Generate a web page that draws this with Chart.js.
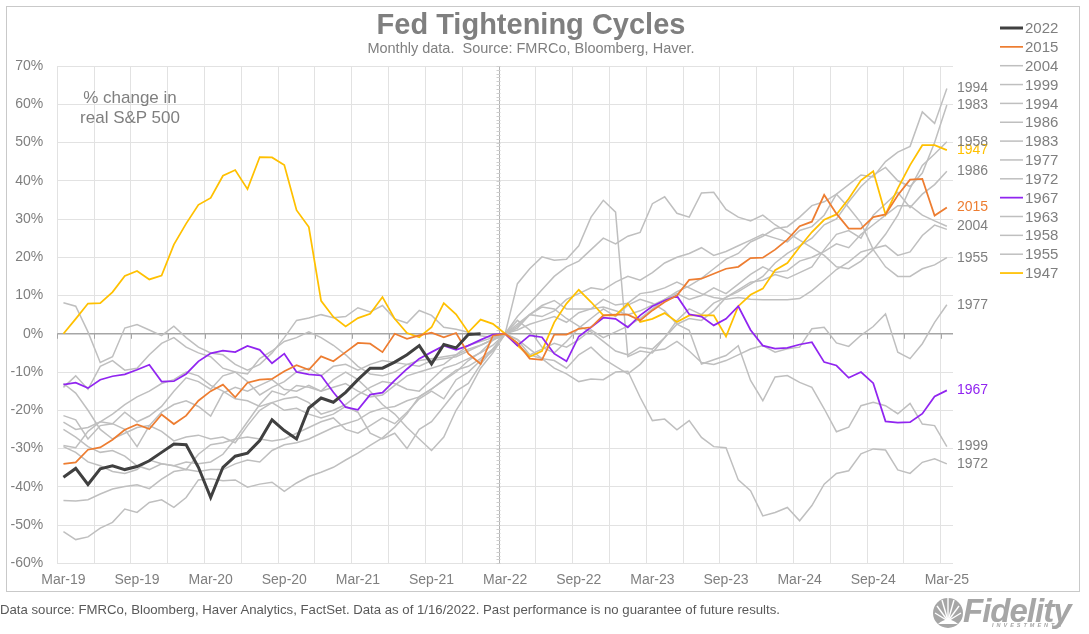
<!DOCTYPE html>
<html>
<head>
<meta charset="utf-8">
<script src="https://cdn.jsdelivr.net/npm/chart.js@4.4.1/dist/chart.umd.min.js"></script>
<style>
  html, body { margin: 0; padding: 0; background: #fff; }
  body { width: 1089px; height: 634px; position: relative; overflow: hidden; font-family: 'Liberation Sans', Arial, sans-serif; }
  #chart { position: absolute; left: 0; top: 0; }
  #frame { position: absolute; left: 6px; top: 6px; width: 1074px; height: 586px; border: 1px solid #c9c9c9; box-sizing: border-box; }
  .title { position: absolute; left: 0; width: 1062px; top: 8px; text-align: center; font-size: 29px; font-weight: bold; color: #7f7f7f; }
  .subtitle { position: absolute; left: 0; width: 1062px; top: 40px; text-align: center; font-size: 14.5px; color: #7f7f7f; }
  .note { position: absolute; left: 60px; width: 140px; top: 88px; text-align: center; font-size: 17px; line-height: 20px; color: #7f7f7f; }
  .footer { position: absolute; left: 0; top: 602px; font-size: 13.2px; color: #595959; white-space: nowrap; }
  .logo { position: absolute; left: 963px; top: 592px; font-size: 33px; font-weight: bold; font-style: italic; color: #a6a6a6; letter-spacing: -1px; }
  .logo-sub { position: absolute; left: 992px; top: 622px; font-size: 5.5px; font-weight: bold; font-style: italic; color: #a6a6a6; letter-spacing: 3px; }
  #mark { position: absolute; left: 932px; top: 597px; }
</style>
</head>
<body>
<div id="frame"></div>
<canvas id="chart" width="1089" height="634"></canvas>
<div class="title">Fed Tightening Cycles</div>
<div class="subtitle">Monthly data.&nbsp; Source: FMRCo, Bloomberg, Haver.</div>
<div class="note">% change in<br>real S&amp;P 500</div>
<div class="footer">Data source: FMRCo, Bloomberg, Haver Analytics, FactSet. Data as of 1/16/2022. Past performance is no guarantee of future results.</div>
<svg id="mark" width="32" height="32" viewBox="0 0 32 32">
  <circle cx="16" cy="16" r="15" fill="#a6a6a6"/>
  <g stroke="#fff" stroke-width="1.4">
    <line x1="16" y1="24" x2="3" y2="16"/><line x1="16" y1="24" x2="5" y2="9"/>
    <line x1="16" y1="24" x2="10" y2="3"/><line x1="16" y1="24" x2="16" y2="1"/>
    <line x1="16" y1="24" x2="22" y2="3"/><line x1="16" y1="24" x2="27" y2="9"/>
    <line x1="16" y1="24" x2="29" y2="16"/>
  </g>
  <path d="M6 27 Q16 18 26 27 Z" fill="#fff"/>
</svg>
<div class="logo">Fidelity</div>
<div class="logo-sub">INVESTMENTS</div>
<script>
// --- categories and tick labels ---
const months = [
  'Mar-19','Apr-19','May-19','Jun-19','Jul-19','Aug-19','Sep-19','Oct-19','Nov-19','Dec-19',
  'Jan-20','Feb-20','Mar-20','Apr-20','May-20','Jun-20','Jul-20','Aug-20','Sep-20','Oct-20','Nov-20','Dec-20',
  'Jan-21','Feb-21','Mar-21','Apr-21','May-21','Jun-21','Jul-21','Aug-21','Sep-21','Oct-21','Nov-21','Dec-21',
  'Jan-22','Feb-22','Mar-22','Apr-22','May-22','Jun-22','Jul-22','Aug-22','Sep-22','Oct-22','Nov-22','Dec-22',
  'Jan-23','Feb-23','Mar-23','Apr-23','May-23','Jun-23','Jul-23','Aug-23','Sep-23','Oct-23','Nov-23','Dec-23',
  'Jan-24','Feb-24','Mar-24','Apr-24','May-24','Jun-24','Jul-24','Aug-24','Sep-24','Oct-24','Nov-24','Dec-24',
  'Jan-25','Feb-25','Mar-25'
];
const tickLabels = ['Mar-19','Sep-19','Mar-20','Sep-20','Mar-21','Sep-21','Mar-22','Sep-22','Mar-23','Sep-23','Mar-24','Sep-24','Mar-25'];

// --- series: % change in real S&P 500, relative to first hike month (Mar-22) ---
const s2022 = [-37.5,-35.2,-39.4,-35.3,-34.5,-35.5,-34.7,-33.2,-31.0,-28.8,-29.0,-34.9,-42.8,-34.9,-32.0,-31.2,-27.9,-22.5,-25.3,-27.5,-19.4,-16.8,-17.9,-15.3,-12.0,-9.0,-9.0,-7.4,-5.5,-3.1,-7.9,-2.8,-3.7,-0.2,0];
const s2015 = [-34.0,-33.6,-30.3,-29.7,-27.7,-25.1,-23.7,-24.9,-21.1,-23.6,-21.4,-17.5,-15.0,-13.3,-16.6,-12.8,-12.0,-11.8,-9.8,-8.2,-9.4,-5.9,-7.2,-4.8,-2.4,-2.6,-4.8,0.0,-1.3,-0.4,0.3,-0.9,0.2,-5.2,-7.9,-0.5,0,
  -2.4,-6.5,-6.8,-0.2,-0.2,1.3,1.7,4.8,5.0,5.0,3.5,6.1,8.3,10.0,14.1,14.4,15.7,17.0,17.5,19.8,19.9,22.0,24.6,28.1,29.3,36.3,31.4,27.5,27.5,30.5,31.2,36.2,40.3,40.5,30.9,33.0];
const s2004 = [8.1,7.2,0.5,-7.5,-6.0,1.5,2.4,1.0,-0.5,2.0,-1.0,-3.5,-5.0,-5.5,-8.0,-9.5,-8.0,-5.0,-1.0,3.5,4.1,5.0,4.2,4.5,6.8,5.7,7.4,3.9,2.8,6.1,4.8,1.7,1.2,0.4,-0.5,-1.0,0,
  2.0,5.0,7.4,8.7,6.5,6.5,6.5,7.0,6.0,5.0,6.0,7.5,9.0,10.5,9.0,10.0,12.0,10.5,13.0,15.5,17.5,16.0,16.5,19.0,20.0,21.5,23.5,22.5,26.0,28.5,31.0,33.5,33.5,31.0,29.5,28.1];
const s1999 = [-51.7,-53.8,-53.1,-50.8,-49.3,-45.8,-46.7,-44.1,-43.4,-45.4,-42.8,-38.2,-37.9,-38.4,-38.2,-40.1,-39.3,-38.8,-41.2,-39.0,-37.3,-36.2,-34.9,-33.0,-31.2,-29.2,-27.2,-24.4,-20.9,-16.4,-14.4,-12.2,-10.0,-7.0,-4.8,-1.7,0,
  3.5,1.0,-3.5,-5.0,-2.0,1.5,4.0,6.5,4.5,7.5,9.0,8.0,6.0,2.5,0.9,-7.9,-6.8,-5.7,-3.1,-12.2,-17.5,-11.3,-10.9,-12.7,-14.0,-19.6,-25.6,-24.4,-18.8,-17.9,-18.8,-20.9,-18.2,-23.6,-24.0,-29.5];
const s1994 = [-21.4,-22.5,-27.5,-24.0,-23.5,-20.5,-23.0,-21.5,-19.0,-15.0,-11.5,-12.5,-14.5,-11.0,-10.0,-12.5,-16.0,-14.0,-12.5,-10.0,-9.0,-11.0,-8.5,-8.0,-9.5,-8.0,-7.0,-7.5,-8.0,-8.5,-7.0,-6.5,-6.0,-4.5,-3.0,-1.5,0,
  -3.0,-5.5,-4.0,-2.5,-3.5,-1.5,1.0,-1.0,0.5,2.0,4.0,6.5,9.0,11.0,12.5,14.5,17.0,19.5,21.0,24.0,25.5,27.5,28.0,30.5,33.5,34.5,36.5,39.0,41.5,41.0,45.0,47.5,49.0,58.0,55.0,64.1];
const s1986 = [-23.1,-25.0,-24.5,-23.0,-23.5,-25.0,-29.5,-24.0,-20.5,-18.5,-17.5,-19.0,-21.5,-15.5,-14.0,-15.0,-13.5,-12.0,-14.5,-15.0,-13.5,-15.0,-14.0,-13.0,-15.0,-16.5,-16.0,-13.5,-11.0,-10.0,-9.0,-8.0,-5.5,-3.0,-2.0,-1.0,0,
  13.1,17.0,20.1,19.2,19.5,23.0,30.5,34.9,31.8,-6.0,-4.5,-5.0,-1.0,3.5,6.5,5.0,8.0,9.5,11.5,13.5,14.0,15.5,14.5,16.0,17.5,22.0,26.0,27.0,25.0,31.0,34.0,37.0,33.0,36.5,39.0,42.5];
const s1983 = [-25.0,-27.0,-29.5,-31.0,-30.5,-32.0,-34.5,-35.5,-34.0,-34.5,-33.5,-34.0,-33.5,-31.5,-27.5,-23.0,-18.5,-15.0,-16.0,-13.5,-14.0,-15.0,-12.0,-10.0,-12.0,-15.0,-18.5,-21.0,-24.5,-27.5,-30.5,-27.0,-20.0,-15.0,-9.0,-5.0,0,
  1.5,5.0,7.0,6.5,4.0,2.0,0.5,-2.0,-4.5,-5.5,-3.5,-4.0,-1.0,2.5,4.0,3.5,6.0,9.5,11.0,13.0,15.0,18.5,21.0,23.0,25.0,28.5,30.0,34.5,38.5,41.5,43.5,40.0,38.5,42.0,50.0,59.8];
const s1977 = [-14.0,-11.0,-14.5,-8.5,-7.0,-9.5,-9.0,-5.5,-2.5,-1.0,-3.5,-5.0,-6.0,-9.0,-10.0,-10.5,-6.5,-4.5,-2.0,-1.0,0.5,-1.0,-3.0,-5.5,-8.5,-10.5,-11.0,-10.0,-8.0,-7.0,-6.5,-6.0,-5.5,-4.0,-3.0,-1.5,0,
  -1.5,-5.5,-6.5,-7.0,-9.0,-5.5,-3.5,-6.5,-8.5,-10.5,-8.0,-4.5,-4.0,-2.0,-4.5,-7.5,-8.0,-7.0,-5.5,-4.0,-3.1,-4.8,-3.9,-3.5,1.3,1.7,-2.4,-3.3,-0.4,1.9,5.2,-4.8,-6.5,-2.6,3.0,7.6];
const s1972 = [-29.2,-29.8,-25.5,-23.0,-21.0,-18.5,-16.5,-15.0,-13.0,-12.0,-10.0,-11.0,-13.5,-15.0,-17.0,-17.5,-19.0,-18.0,-20.0,-19.5,-21.0,-22.0,-21.0,-19.0,-20.5,-26.0,-27.5,-26.0,-30.0,-25.0,-23.0,-19.0,-15.0,-13.0,-8.0,-4.0,0,
  -1.5,-4.0,-6.5,-9.0,-10.5,-12.5,-11.8,-12.0,-10.0,-9.8,-16.6,-22.7,-22.3,-25.1,-22.7,-27.1,-29.5,-29.8,-38.2,-41.0,-47.6,-46.7,-45.4,-48.9,-44.9,-39.3,-36.5,-35.8,-31.4,-30.1,-30.4,-35.6,-36.5,-33.6,-32.7,-34.0];
const s1967 = [-13.3,-12.8,-14.2,-12.0,-11.1,-10.6,-9.4,-8.1,-12.5,-12.4,-10.5,-7.2,-5.1,-4.4,-4.8,-3.2,-4.2,-7.7,-5.2,-10.0,-10.6,-10.9,-15.3,-19.2,-19.9,-15.9,-15.4,-12.2,-9.2,-6.5,-4.8,-3.1,-4.2,-3.1,-1.6,-0.2,0,
  -3.1,-0.4,-0.9,-5.2,-7.2,-0.7,1.7,4.2,3.9,1.7,4.8,7.2,8.7,9.9,5.1,4.5,2.2,3.9,7.2,1.0,-3.1,-3.9,-3.7,-2.8,-2.2,-7.4,-8.3,-11.5,-10.0,-12.9,-22.9,-23.2,-23.1,-20.9,-16.4,-14.8];
const s1963 = [-13.0,-15.5,-20.0,-25.0,-27.5,-26.0,-24.5,-24.0,-25.5,-28.0,-27.0,-26.5,-27.5,-27.0,-28.5,-24.0,-20.0,-18.0,-17.0,-16.5,-18.0,-21.0,-20.0,-18.5,-16.0,-14.0,-12.5,-13.0,-14.5,-15.0,-12.0,-9.0,-8.0,-6.5,-5.0,-3.0,0,
  1.0,2.5,3.5,4.5,3.0,5.5,6.5,9.0,7.5,8.0,10.5,11.0,12.0,13.5,12.0,10.5,9.5,9.0,9.5,9.0,8.9,8.9,8.9,9.2,11.3,14.0,16.8,18.8,21.4,22.3,23.1,20.5,21.4,25.7,28.4,27.3];
const s1958 = [-43.6,-43.7,-43.4,-41.9,-40.6,-39.9,-39.5,-40.5,-38.0,-36.0,-35.5,-36.0,-35.5,-35.5,-34.0,-33.0,-33.5,-30.5,-29.0,-28.5,-27.5,-26.0,-24.5,-23.5,-22.5,-20.5,-19.5,-19.0,-17.5,-16.5,-14.5,-12.0,-9.5,-8.5,-6.5,-4.0,0,
  4.5,8.0,11.5,15.0,17.5,19.0,22.0,25.0,23.5,25.5,26.5,34.0,35.8,31.5,30.5,36.8,37.0,32.5,30.5,29.5,31.0,28.5,26.5,24.5,22.5,20.5,17.5,17.0,19.0,22.0,26.0,31.0,38.0,44.0,47.0,50.2];
const s1955 = [-29.5,-31.0,-33.5,-34.5,-36.0,-36.5,-35.5,-33.0,-34.0,-34.5,-35.5,-31.5,-29.0,-28.5,-27.5,-27.0,-27.5,-28.0,-27.5,-26.0,-24.5,-23.0,-22.0,-25.0,-26.0,-24.0,-22.0,-23.5,-20.5,-17.0,-15.0,-17.0,-12.0,-10.0,-7.0,-4.5,0,
  2.5,5.0,4.5,6.0,9.0,10.5,12.0,11.5,13.5,15.0,14.0,16.0,18.5,20.0,21.0,22.5,20.5,21.5,23.0,24.5,26.0,25.0,24.0,27.0,28.0,31.0,36.5,33.0,29.0,22.0,17.5,15.0,15.0,17.0,18.0,19.9];
const s1947 = [0,3.9,7.9,8.0,10.9,15.1,16.4,14.2,15.2,23.3,28.8,33.7,35.5,41.3,42.8,37.8,46.2,46.1,44.1,32.3,27.9,8.6,4.4,1.9,4.1,5.2,9.6,3.9,0.2,-0.9,1.7,8.0,5.1,0.4,3.7,2.6,0,
  -3.0,-6.0,-4.5,3.0,7.9,11.5,8.3,4.8,4.8,7.9,3.1,3.9,5.4,3.1,4.8,4.8,4.8,-0.7,7.2,10.2,11.8,16.6,18.5,22.7,26.6,29.8,31.2,35.3,40.1,42.5,31.2,38.0,44.1,49.3,49.3,48.0];

const legendOrder = ['2022','2015','2004','1999','1994','1986','1983','1977','1972','1967','1963','1958','1955','1947'];
const endLabelled = ['1994','1983','1958','1947','1986','2015','2004','1955','1977','1967','1999','1972'];

const GREY = '#bfbfbf';
const TEXT = '#7f7f7f';
const FONT = "'Liberation Sans', Arial, sans-serif";

// --- datasets (first in list is drawn on top) ---
const series = [
  { label: '2022', data: s2022, color: '#404040', width: 3 },
  { label: '2015', data: s2015, color: '#ed7d31', width: 1.75 },
  { label: '1967', data: s1967, color: '#9125f0', width: 1.75 },
  { label: '1947', data: s1947, color: '#ffc000', width: 1.75 },
  { label: '2004', data: s2004, color: GREY, width: 1.5 },
  { label: '1999', data: s1999, color: GREY, width: 1.5 },
  { label: '1994', data: s1994, color: GREY, width: 1.5 },
  { label: '1986', data: s1986, color: GREY, width: 1.5 },
  { label: '1983', data: s1983, color: GREY, width: 1.5 },
  { label: '1977', data: s1977, color: GREY, width: 1.5 },
  { label: '1972', data: s1972, color: GREY, width: 1.5 },
  { label: '1963', data: s1963, color: GREY, width: 1.5 },
  { label: '1958', data: s1958, color: GREY, width: 1.5 },
  { label: '1955', data: s1955, color: GREY, width: 1.5 }
];

// --- axis decorations, legend and end labels ---
const decor = {
  id: 'decor',
  beforeDatasetsDraw(chart) {
    const { ctx, chartArea: a, scales: { x, y } } = chart;
    const half = (x.getPixelForValue(1) - x.getPixelForValue(0)) / 2;
    const y0 = y.getPixelForValue(0);
    ctx.save();
    ctx.strokeStyle = '#a6a6a6';
    // zero line with tick marks
    ctx.lineWidth = 1.5;
    ctx.beginPath(); ctx.moveTo(a.left, y0); ctx.lineTo(a.right, y0); ctx.stroke();
    ctx.lineWidth = 1;
    ctx.beginPath();
    for (let i = 0; i <= months.length; i += 3) {
      const px = Math.round(x.getPixelForValue(i) - half) + 0.5;
      ctx.moveTo(px, y0); ctx.lineTo(px, y0 + 5);
    }
    ctx.stroke();
    // vertical axis at the first hike
    const xc = Math.round(x.getPixelForValue(months.indexOf('Mar-22')) - half) + 0.5;
    ctx.strokeStyle = '#b3b3b3';
    ctx.beginPath(); ctx.moveTo(xc, a.top); ctx.lineTo(xc, a.bottom); ctx.stroke();
    ctx.strokeStyle = '#cfcfcf';
    ctx.beginPath();
    for (let v = -60; v <= 70; v += 1) {
      const py = Math.round(y.getPixelForValue(v)) + 0.5;
      ctx.moveTo(xc - 3, py); ctx.lineTo(xc + 1, py);
    }
    ctx.stroke();
    ctx.restore();
  },
  afterDraw(chart) {
    const { ctx, chartArea: a, scales: { y } } = chart;
    ctx.save();
    // end-of-line labels
    ctx.font = '14px ' + FONT;
    ctx.textBaseline = 'middle';
    ctx.textAlign = 'left';
    chart.data.datasets.forEach(ds => {
      if (!endLabelled.includes(ds.label)) return;
      const last = ds.data[ds.data.length - 1];
      ctx.fillStyle = ds.borderColor === GREY ? TEXT : ds.borderColor;
      ctx.fillText(ds.label, a.right + 4, y.getPixelForValue(last));
    });
    // legend
    ctx.font = '15px ' + FONT;
    legendOrder.forEach((name, k) => {
      const ds = chart.data.datasets.find(d => d.label === name);
      const ly = 28 + k * 18.85;
      ctx.strokeStyle = ds.borderColor;
      ctx.lineWidth = ds.borderWidth;
      ctx.beginPath(); ctx.moveTo(1000, ly); ctx.lineTo(1023, ly); ctx.stroke();
      ctx.fillStyle = TEXT;
      ctx.fillText(name, 1025, ly + 1);
    });
    ctx.restore();
  }
};

new Chart(document.getElementById('chart'), {
  type: 'line',
  data: {
    labels: months,
    datasets: series.map(s => ({
      label: s.label,
      data: s.data,
      borderColor: s.color,
      backgroundColor: s.color,
      borderWidth: s.width,
      pointRadius: 0,
      tension: 0,
      fill: false
    }))
  },
  options: {
    responsive: false,
    animation: false,
    events: [],
    layout: { padding: { left: 0, right: 136, top: 66, bottom: 0 } },
    plugins: { legend: { display: false }, tooltip: { enabled: false } },
    scales: {
      x: {
        offset: true,
        afterFit: s => { s.height = 70.7; },
        border: { display: false },
        grid: {
          offset: true,
          drawTicks: false,
          color: c => (c.index % 3 === 0 ? '#e2e2e2' : 'rgba(0,0,0,0)'),
          lineWidth: 1
        },
        ticks: {
          autoSkip: false,
          maxRotation: 0,
          padding: 8,
          color: TEXT,
          font: { family: FONT, size: 14 },
          callback: (v, i) => (tickLabels.includes(months[i]) ? months[i] : '')
        }
      },
      y: {
        min: -60,
        max: 70,
        afterFit: s => { s.width = 57.3; },
        border: { display: false },
        grid: { drawTicks: false, color: c => (c.tick && c.tick.value === 0 ? 'rgba(0,0,0,0)' : '#e2e2e2') },
        ticks: {
          stepSize: 5,
          padding: 14,
          color: TEXT,
          font: { family: FONT, size: 14 },
          callback: v => v + '%'
        }
      }
    }
  },
  plugins: [decor]
});
</script>
</body>
</html>
